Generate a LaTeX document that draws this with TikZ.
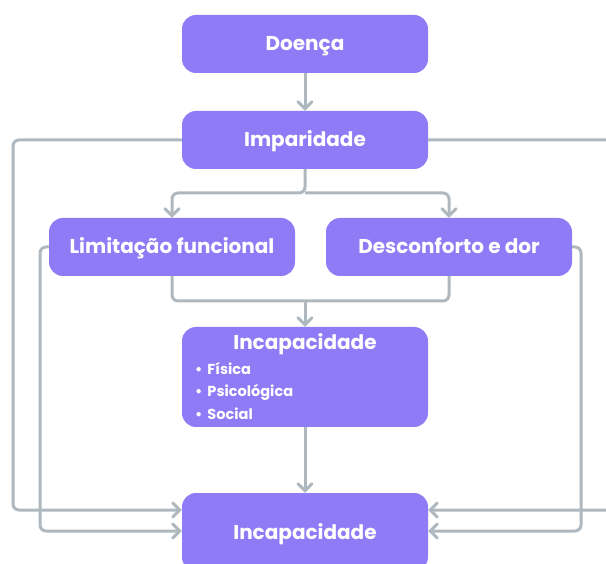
\documentclass[tikz,border=0pt]{standalone}
\usepackage{fontspec}
\setmainfont{Poppins}
\usetikzlibrary{arrows.meta}
\definecolor{roxo}{HTML}{8F7BF6}
\definecolor{cinza}{HTML}{AEB8BE}
\tikzset{
  caixa/.style={fill=roxo, rounded corners=14pt, minimum width=246pt,
    minimum height=58pt, inner sep=0pt, text=white, text height=14pt,
    text depth=0pt, font=\bfseries\fontsize{20}{22}\selectfont},
  item/.style={anchor=west, inner sep=0pt, text=white, text height=10pt,
    text depth=0pt, font=\bfseries\fontsize{14.5}{16}\selectfont},
  liga/.style={draw=cinza, line width=3pt, rounded corners=6pt},
  seta/.style={liga, -{Straight Barb[length=7pt, width=14pt, line cap=round]}}
}
\begin{document}
\begin{tikzpicture}[x=1pt, y=-1pt]
            \useasboundingbox (0,0) rectangle (606,564);
            % Boxes
            \node[caixa] (doenca) at (305,44) {Doença};
            \node[caixa] (impar) at (305,140) {Imparidade};
            \node[caixa] (limit) at (172,247) {Limitação funcional};
            \node[caixa] (desc) at (449,247) {Desconforto e dor};
            \node[caixa, minimum height=100pt] (incap) at (305,377) {};
            \node[caixa, minimum height=78pt] (final) at (305,532) {Incapacidade};
            % Text of the middle box
            \node[caixa, fill=none, minimum height=0pt] (titulo) at (305,343) {Incapacidade};
            \node[item] (fis) at (195,370) {•\hspace{5pt}Física};
            \node[item] (psi) at (195,392) {•\hspace{5pt}Psicológica};
            \node[item] (soc) at (195,415) {•\hspace{5pt}Social};
            % Junction points
            \coordinate (s1) at (305,193);
            \coordinate (m1) at (305,301);
            \coordinate (c1) at (13,510);
            \coordinate (c2) at (40,531);
            \coordinate (c3) at (625,510);
            \coordinate (c4) at (581,531);
            % Connectors
            \draw[seta] (doenca) -- (impar);
            \draw[seta] (impar.south) -- (s1) -| (limit.north);
            \draw[seta] (s1) -| (desc.north);
            \draw[liga] (limit.south) |- (m1);
            \draw[liga] (desc.south) |- (m1);
            \draw[seta] (m1) -- (incap.north);
            \draw[seta] (incap) -- (final);
            \draw[seta] (impar.west) -| (c1) -- (final.west |- c1);  % outer left
            \draw[seta] (limit.west) -| (c2) -- (final.west |- c2);
            \draw[seta] (impar.east) -| (c3) -- (final.east |- c3);  % outer right
            \draw[seta] (desc.east) -| (c4) -- (final.east |- c4);
        \end{tikzpicture}
\end{document}
